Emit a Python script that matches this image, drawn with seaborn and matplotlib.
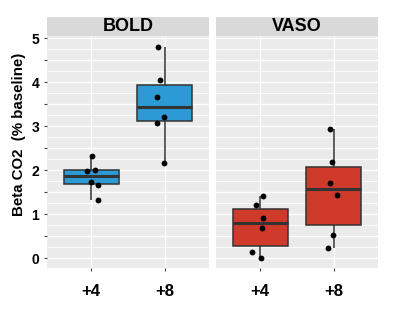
import numpy as np
import pandas as pd
import matplotlib
matplotlib.use("Agg")
import matplotlib.pyplot as plt
import seaborn as sns
from matplotlib.patches import Rectangle

# values
bold_4 = [2.32, 2.00, 1.99, 1.74, 1.67, 1.33]
bold_8 = [4.79, 4.04, 3.67, 3.22, 3.08, 2.16]
vaso_4 = [1.41, 1.20, 0.92, 0.68, 0.14, 0.00]
vaso_8 = [2.93, 2.19, 1.70, 1.44, 0.53, 0.24]
levels = ["+4", "+8"]
panels = ["BOLD", "VASO"]
colors = {"BOLD": "#2C9AD4", "VASO": "#D03A2A"}

df = pd.concat([
    pd.DataFrame({"signal": "BOLD", "co2": "+4", "beta": bold_4}),
    pd.DataFrame({"signal": "BOLD", "co2": "+8", "beta": bold_8}),
    pd.DataFrame({"signal": "VASO", "co2": "+4", "beta": vaso_4}),
    pd.DataFrame({"signal": "VASO", "co2": "+8", "beta": vaso_8}),
])

sns.set_theme(style="white")
plt.rcParams["font.family"] = ["Liberation Sans", "DejaVu Sans"]
plt.rcParams["font.weight"] = "bold"
plt.rcParams["text.color"] = "black"
plt.rcParams["axes.labelcolor"] = "black"
plt.rcParams["xtick.color"] = "black"
plt.rcParams["ytick.color"] = "black"

fig = plt.figure(figsize=(4, 3.12), dpi=100)
W, H = 400, 312
np.random.seed(3)

for i, name in enumerate(panels):
    x0 = 47 if i == 0 else 216
    ax = fig.add_axes([x0 / W, 1 - 268 / H, 162 / W, 232 / H])
    ax.set_facecolor("#EBEBEB")
    sub = df[df["signal"] == name]
    sns.boxplot(data=sub, x="co2", y="beta", order=levels, ax=ax,
                color=colors[name], saturation=1, width=0.75, whis=1.5,
                showfliers=False, showcaps=False, linewidth=1.1,
                linecolor="#333333",
                medianprops=dict(linewidth=2.2, color="#333333"), zorder=3)
    sns.stripplot(data=sub, x="co2", y="beta", order=levels, ax=ax,
                  color="black", size=4.2, jitter=0.12, zorder=5)
    ax.set_xlim(-0.6, 1.6)
    ax.set_ylim(-0.22, 5.05)
    ax.set_yticks(np.arange(0, 5.1, 1))
    ax.set_yticks(np.arange(0.5, 5, 0.5), minor=True)
    for y in np.arange(0, 5.1, 0.25):
        ax.axhline(y, color="white", lw=1.0 if y % 0.5 == 0 else 0.6, zorder=0)
    for xx in range(2):
        ax.axvline(xx, color="white", lw=1.0, zorder=0)
    for s in ax.spines.values():
        s.set_visible(False)
    ax.set_xlabel("")
    ax.set_ylabel("")
    ax.tick_params(axis="x", length=2.5, width=0.8, color="#444444",
                   labelsize=12, pad=9, bottom=True, labelcolor="black")
    ax.tick_params(axis="y", which="both", length=2.5, width=0.8,
                   color="#444444", labelsize=10, pad=3, left=(i == 0),
                   labelcolor="black")
    if i == 0:
        ax.set_ylabel("Beta CO2  (% baseline)", fontsize=10.8,
                      fontweight="bold", color="black")
        ax.yaxis.set_label_coords(-0.13, 0.578)
    else:
        ax.set_yticklabels([])
        ax.tick_params(axis="y", which="both", left=False)
    for lab in ax.get_xticklabels() + ax.get_yticklabels():
        lab.set_fontweight("bold")
    ax.add_patch(Rectangle((0, 1.0), 1, 19 / 232, transform=ax.transAxes,
                           facecolor="#D9D9D9", edgecolor="none",
                           clip_on=False))
    ax.text(0.5, 1.0 + 9.5 / 232, name, transform=ax.transAxes,
            ha="center", va="center", fontsize=13, fontweight="bold",
            color="black")

fig.savefig("out.png", dpi=100)
